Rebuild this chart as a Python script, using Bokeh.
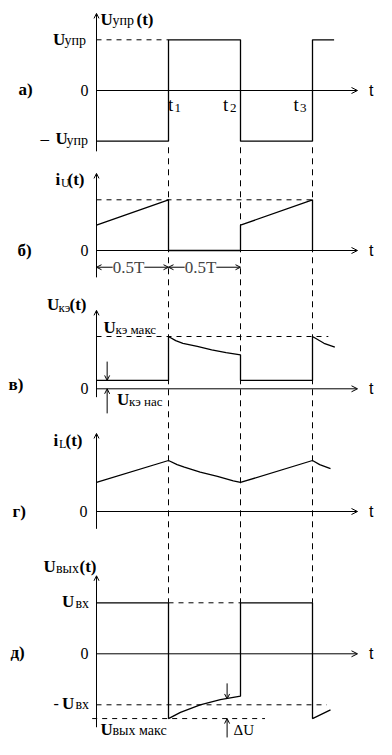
from bokeh.plotting import figure
from bokeh.models import Range1d, Arrow, OpenHead, Label
from bokeh.embed import file_html
from bokeh.resources import INLINE

# ---------------- data (time in units of T) ----------------
t_marks = [0.5, 1.0, 1.5]          # t1, t2, t3
t_axis_end = 1.8125                # end of time axis arrow

# а) control voltage U_упр(t)
a_t = [0, 0.5, 0.5, 1.0, 1.0, 1.5, 1.5, 1.65]
a_v = [-1, -1, 1, 1, -1, -1, 1, 1]

# б) current i_U(t)
b_t = [0, 0.5, 0.5, 1.0, 1.0, 1.5, 1.5]
b_v = [0.5, 1.0, 0, 0, 0.5, 1.0, 0]

# в) U_кэ(t)
c_t = [0, 0.5, 0.5, 0.55, 0.6, 0.7, 0.8, 0.9, 1.0, 1.0, 1.5, 1.5, 1.58, 1.655]
c_v = [0.16, 0.16, 1.0, 0.92, 0.87, 0.81, 0.745, 0.69, 0.65, 0.16, 0.16, 1.0, 0.87, 0.795]

# г) i_L(t)
d_t = [0, 0.5, 0.56, 0.61, 0.72, 0.84, 0.95, 1.0, 1.5, 1.55, 1.625]
d_v = [0.57, 1.0, 0.92, 0.87, 0.77, 0.69, 0.6, 0.57, 1.0, 0.92, 0.84]

# д) U_вых(t)
e_t = [0, 0.5, 0.5, 0.583, 0.72, 0.86, 1.0, 1.0, 1.5, 1.5, 1.625]
e_v = [1, 1, -1.27, -1.15, -1.0, -0.9, -0.83, 1, 1, -1.27, -1.1]

# reference levels
U_upr = 1.0
i_max = 1.0
U_ke_max = 1.0
U_ke_nas = 0.16
U_vx = 1.0
U_vyx_max = -1.27
dU_top = -0.885

# ---------------- layout ----------------
W, H = 376, 739
AX_PX, T_PX = 96, 144          # x pixel of t=0, pixels per T
PANEL_PX = {                   # zero-line pixel, pixels per unit
    "a": (90, 50.7),
    "b": (250, 50.7),
    "c": (388.3, 52.3),
    "d": (511, 51),
    "e": (653.3, 51),
}
AXIS_EXT = {"a": (-1.2, 1.52), "b": (-0.53, 1.52), "c": (-0.16, 1.5),
            "d": (-0.34, 1.53), "e": (-1.44, 1.53)}


def convert(val, src, dst):
    py = PANEL_PX[src][0] - val * PANEL_PX[src][1]
    return (PANEL_PX[dst][0] - py) / PANEL_PX[dst][1]


p = figure(width=W, height=H, output_backend="svg", toolbar_location=None,
           x_range=Range1d(-AX_PX / T_PX, (W - AX_PX) / T_PX),
           y_range=Range1d(0, 1), x_axis_type=None, y_axis_type=None,
           min_border=0, min_border_left=0, min_border_right=0,
           min_border_top=0, min_border_bottom=0)
p.grid.visible = False
p.outline_line_color = None
p.background_fill_color = "white"
p.border_fill_color = "white"

for k, (z, s) in PANEL_PX.items():
    p.extra_y_ranges[k] = Range1d(-(H - z) / s, z / s)

LW = 1.3
DASH = "5 5"
VDASH = "6 5"

# vertical dashed markers t1, t2, t3 (from below panel а to U_вх level of panel д)
v_top = convert(-1.12, "a", "e")
for tm in t_marks:
    p.line([tm, tm], [v_top, U_vx], y_range_name="e", line_color="black",
           line_width=1, line_dash=VDASH)

# horizontal dashed levels
p.line([0, 0.5], [U_upr, U_upr], y_range_name="a", line_color="black", line_width=1, line_dash=DASH)
p.line([0, 1.5], [i_max, i_max], y_range_name="b", line_color="black", line_width=1, line_dash=DASH)
p.line([0, 1.61], [U_ke_max, U_ke_max], y_range_name="c", line_color="black", line_width=1, line_dash=DASH)
p.line([0.5, 1.0], [U_vx, U_vx], y_range_name="e", line_color="black", line_width=1, line_dash=DASH)
p.line([0, 1.6], [-U_vx, -U_vx], y_range_name="e", line_color="black", line_width=1, line_dash=DASH)
p.line([-0.03, 1.17], [U_vyx_max, U_vyx_max], y_range_name="e", line_color="black", line_width=1, line_dash=DASH)

# axes
for k, (lo, hi) in AXIS_EXT.items():
    p.add_layout(Arrow(x_start=0, y_start=lo, x_end=0, y_end=hi, y_range_name=k,
                       line_width=1, line_color="black",
                       end=OpenHead(size=5, line_width=1, line_color="black")))
    p.add_layout(Arrow(x_start=0, y_start=0, x_end=t_axis_end, y_end=0, y_range_name=k,
                       line_width=1, line_color="black",
                       end=OpenHead(size=6, line_width=1, line_color="black")))

# waveforms
for (tt, vv, k) in [(a_t, a_v, "a"), (b_t, b_v, "b"), (c_t, c_v, "c"),
                    (d_t, d_v, "d"), (e_t, e_v, "e")]:
    p.line(tt, vv, y_range_name=k, line_color="black", line_width=LW)

# 0.5T dimension arrows
for (x0, x1) in [(0, 0.5), (0.5, 1.0)]:
    p.add_layout(Arrow(x_start=x0, y_start=-0.33, x_end=x1, y_end=-0.33, y_range_name="b",
                       line_width=1, line_color="black",
                       start=OpenHead(size=5, line_width=1, line_color="black"),
                       end=OpenHead(size=5, line_width=1, line_color="black")))
    p.add_layout(Label(x=(x0 + x1) / 2, y=-0.33, y_range_name="b", x_offset=-4, y_offset=0,
                       text="0.5T", text_align="center", text_baseline="middle",
                       text_font="Liberation Serif", text_font_size="17px",
                       background_fill_color="white", background_fill_alpha=1.0))

# U_кэ нас arrows
p.add_layout(Arrow(x_start=0.074, y_start=0.52, x_end=0.074, y_end=U_ke_nas, y_range_name="c",
                   line_width=1, line_color="black",
                   end=OpenHead(size=5, line_width=1, line_color="black")))
p.add_layout(Arrow(x_start=0.074, y_start=-0.47, x_end=0.074, y_end=0, y_range_name="c",
                   line_width=1, line_color="black",
                   end=OpenHead(size=5, line_width=1, line_color="black")))

# ΔU arrows
p.add_layout(Arrow(x_start=0.907, y_start=-0.58, x_end=0.907, y_end=dU_top, y_range_name="e",
                   line_width=1, line_color="black",
                   end=OpenHead(size=5, line_width=1, line_color="black")))
p.add_layout(Arrow(x_start=0.907, y_start=-1.64, x_end=0.907, y_end=U_vyx_max, y_range_name="e",
                   line_width=1, line_color="black",
                   end=OpenHead(size=5, line_width=1, line_color="black")))

# ---------------- texts (reference pixel positions: left x, baseline y) ----------------
SERIF = "Liberation Serif"
SANS = "Liberation Sans"
B, N = "bold", "normal"
texts = [
    # а)
    ("U", 100, 24.5, 17, B, SERIF), ("упр", 112, 25, 14, N, SERIF), ("(t)", 136, 24.5, 17, B, SERIF),
    ("U", 52.5, 44.5, 17, B, SERIF), ("упр", 64, 45, 14, N, SERIF),
    ("–", 40, 144, 17, N, SERIF), ("U", 55, 144, 17, B, SERIF), ("упр", 66, 144.5, 14, N, SERIF),
    ("0", 80, 95, 16, N, SERIF),
    ("а)", 18, 95, 17, B, SERIF),
    ("t", 167.5, 110, 19, N, SERIF), ("1", 174, 112, 13, N, SERIF),
    ("t", 222.5, 110, 19, N, SERIF), ("2", 229.5, 112, 13, N, SERIF),
    ("t", 293, 110, 19, N, SERIF), ("3", 299.5, 112, 13, N, SERIF),
    ("t", 368.5, 95.5, 16, N, SANS),
    # б)
    ("i", 55, 185, 17, B, SERIF), ("U", 60.5, 187, 12, N, SERIF), ("(t)", 67, 185, 17, B, SERIF),
    ("0", 80, 255, 16, N, SERIF),
    ("б)", 17, 256, 17, B, SERIF),
    ("t", 368.5, 255.5, 16, N, SANS),
    # в)
    ("U", 46.5, 310, 17, B, SERIF), ("кэ", 58, 311, 13, N, SERIF), ("(t)", 69, 310, 17, B, SERIF),
    ("U", 103, 333, 17, B, SERIF), ("кэ макс", 115, 333, 13, N, SERIF),
    ("U", 116.5, 405, 17, B, SERIF), ("кэ нас", 128.5, 405.5, 13, N, SERIF),
    ("0", 80, 393.5, 16, N, SERIF),
    ("в)", 8, 390, 17, B, SERIF),
    ("t", 368.5, 393.5, 16, N, SANS),
    # г)
    ("i", 53, 446, 17, B, SERIF), ("L", 58.5, 448, 12, N, SERIF), ("(t)", 65, 446, 17, B, SERIF),
    ("0", 79, 516.5, 16, N, SERIF),
    ("г)", 12, 516.5, 17, B, SERIF),
    ("t", 368.5, 516.5, 16, N, SANS),
    # д)
    ("U", 43, 572, 17, B, SERIF), ("вых", 55.5, 572.5, 14, N, SERIF), ("(t)", 79, 572, 17, B, SERIF),
    ("U", 61.5, 607, 17, B, SERIF), ("вх", 75, 607.5, 14, N, SERIF),
    ("0", 80, 658.5, 16, N, SERIF),
    ("д)", 10, 658, 17, B, SERIF),
    ("-", 53, 708.5, 16, N, SERIF), ("U", 61.5, 708.5, 17, B, SERIF), ("вх", 75, 709, 14, N, SERIF),
    ("U", 100, 734.5, 17, B, SERIF), ("вых макс", 112, 734.5, 14, N, SERIF),
    ("ΔU", 233, 734.5, 15, N, SERIF),
    ("t", 368.5, 658.5, 16, N, SANS),
]
for (txt, rx, ry, size, style, font) in texts:
    y_mid = ry - 0.335 * size
    p.add_layout(Label(x=rx, y=H - y_mid, x_units="screen", y_units="screen",
                       text=txt, text_font=font, text_font_size=f"{size}px",
                       text_font_style=style, text_align="left",
                       text_baseline="middle", text_color="black"))

open("out.html", "w").write(file_html(p, INLINE))
